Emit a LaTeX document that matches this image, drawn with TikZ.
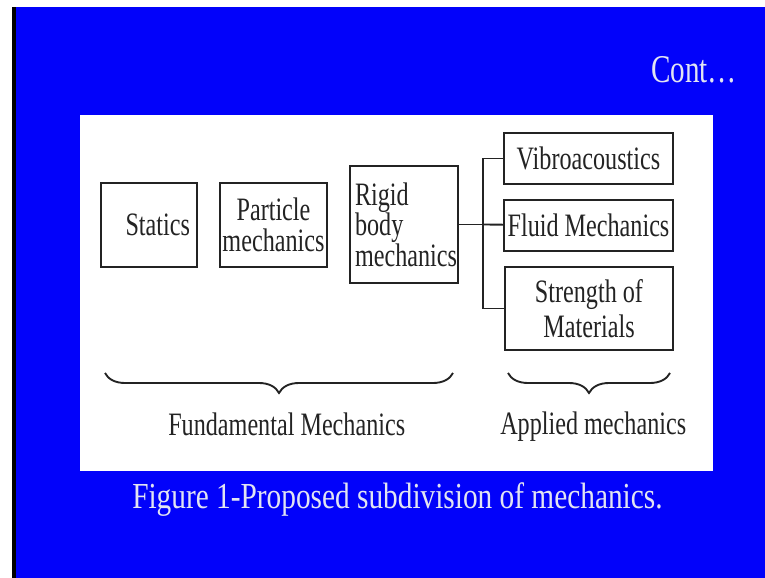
\documentclass[tikz,border=0pt]{standalone}
\usepackage{fontspec}
\setmainfont{Liberation Serif}[FakeStretch=0.74]
\newfontfamily\capfont{Liberation Serif}[FakeStretch=0.8]
\usepackage{xcolor}
\usepackage{tikz}
\usetikzlibrary{positioning}
\usetikzlibrary{decorations.pathreplacing}
\definecolor{slideblue}{RGB}{2,2,250}
\definecolor{ink}{RGB}{35,35,35}
\definecolor{pale}{RGB}{226,228,242}
\def\boxfont{\fontsize{24.5pt}{23pt}\selectfont}

\begin{document}
\begin{tikzpicture}[x=0.75pt,y=-0.75pt,
  box/.style={draw=ink, line width=1.8pt, fill=white, text=ink, inner sep=0pt, font=\boxfont},
  groupname/.style={text=ink, inner sep=0pt, font=\boxfont, anchor=base west},
  wire/.style={draw=ink, line width=1.4pt},
  brace/.style={draw=ink, line width=1.4pt, decorate, decoration={brace, mirror, amplitude=15pt}}]
\useasboundingbox (0,0) rectangle (765,578);
% slide background
\fill[white] (0,0) rectangle (765,578);
\fill[black] (12,7) rectangle (16,578);
\fill[slideblue] (16,7) rectangle (765,578);
\fill[white] (80,115) rectangle (713,471);
\node[anchor=base west, text=pale, inner sep=0pt, font=\fontsize{29.5pt}{30pt}\selectfont] (cont) at (651,82) {Cont…};

% fundamental boxes
\node[box, minimum width=72pt, minimum height=63pt, text width=61.5pt, align=right] (statics) at (149,225) {Statics};
\node[box, minimum width=80.25pt, minimum height=63pt, align=center] (particle) at (273.5,225) {Particle\\mechanics};
\node[box, minimum width=81pt, minimum height=87.75pt, text width=73.5pt, align=left] (rigid) at (404,224.5) {Rigid\\body\\mechanics};

% applied boxes
\node[box, minimum width=126.75pt, minimum height=38.25pt] (vibro) at (588.5,158.5) {Vibroacoustics};
\node[box, minimum width=126.75pt, minimum height=38.25pt] (fluid) at (588.5,225.5) {Fluid Mechanics};
\node[box, minimum width=126pt, minimum height=62.25pt, align=center, font=\fontsize{24.5pt}{26pt}\selectfont] (strength) at (589,308.5) {Strength of\\Materials};

\coordinate (bus) at (483,224.5);
\draw[wire] (rigid) -- (bus);
\draw[wire] (vibro.west) -| (bus) |- (strength.west);
\draw[wire] (bus) -- (fluid);

% braces
\draw[brace] (105,373) -- (453,373);
\draw[brace] (508,373) -- (670,373);
\node[groupname] (fundamental) at (168,435) {Fundamental Mechanics};
\node[groupname] (applied) at (500,434) {Applied mechanics};

\node[anchor=base west, text=pale, inner sep=0pt, font=\capfont\fontsize{27.5pt}{30pt}\selectfont] (caption) at (132,508) {Figure 1-Proposed subdivision of mechanics.};
\end{tikzpicture}
\end{document}
